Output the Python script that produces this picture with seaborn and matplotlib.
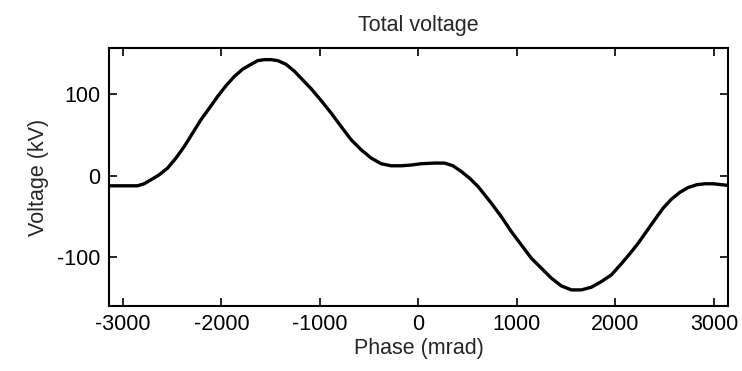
import numpy as np
import pandas as pd
import seaborn as sns
import matplotlib.pyplot as plt

# values
phase = [-3142, -3123, -2988, -2852, -2785, -2716, -2632, -2547, -2462, -2378,
         -2293, -2208, -2124, -2039, -1954, -1870, -1785, -1700, -1632, -1565,
         -1497, -1429, -1345, -1260, -1193, -1090, -989, -887, -786, -684,
         -582, -481, -379, -278, -176, -74, 27, 163, 264, 350,
         434, 518, 604, 739, 840, 942, 1044, 1145, 1247, 1349,
         1450, 1552, 1654, 1755, 1857, 1958, 2060, 2144, 2230, 2314,
         2398, 2484, 2568, 2652, 2738, 2822, 2907, 2992, 3110, 3142]
voltage = [-12.5, -12.3, -12.3, -12.3, -9.8, -4.9, 1.2, 9.5, 21.8, 36.0,
           52.5, 69.0, 83.0, 97.5, 110.7, 122.0, 131.0, 137.0, 141.5, 142.7,
           142.7, 141.5, 137.0, 128.5, 120.0, 107.0, 92.5, 77.1, 60.6, 44.3,
           32.0, 21.8, 14.8, 12.3, 12.3, 13.2, 14.8, 15.6, 15.6, 12.3,
           5.3, -2.9, -13.1, -33.6, -50.1, -68.5, -84.9, -101.2, -113.5, -125.8,
           -135.3, -140.2, -140.2, -136.9, -130.0, -121.8, -108.0, -96.0, -83.0, -68.5,
           -54.1, -39.7, -28.7, -20.5, -14.4, -11.1, -9.8, -9.8, -11.4, -12.0]

df = pd.DataFrame({"Phase": phase, "Voltage": voltage})

sns.set_theme(style="ticks")
plt.rcParams["font.family"] = ["Liberation Sans", "DejaVu Sans"]
plt.rcParams["axes.unicode_minus"] = False

fig = plt.figure(figsize=(7.42, 3.71), dpi=100)
ax = fig.add_axes([0.1469, 0.1752, 0.8342, 0.6954])

sns.lineplot(data=df, x="Phase", y="Voltage", color="black", linewidth=2.4, ax=ax)

ax.set_xlim(-3142, 3142)
ax.set_ylim(-160, 157)
ax.set_xticks([-3000, -2000, -1000, 0, 1000, 2000, 3000])
ax.set_yticks([-100, 0, 100])
ax.tick_params(direction="in", top=True, right=True, length=6, width=1.2,
               labelsize=15.5, colors="black", pad=6)
for s in ax.spines.values():
    s.set_visible(True)
    s.set_linewidth(1.5)
    s.set_color("black")

ax.set_xlabel("Phase (mrad)", fontsize=15.5, labelpad=2)
ax.set_ylabel("Voltage (kV)", fontsize=15.5, labelpad=6)
ax.set_title("Total voltage", fontsize=15.5, pad=12)

fig.savefig("out.png", dpi=100)
